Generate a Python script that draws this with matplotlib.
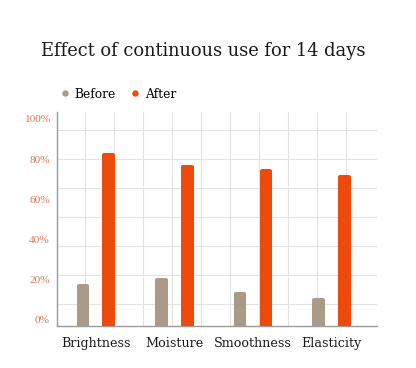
import matplotlib.pyplot as plt
from matplotlib.lines import Line2D
from matplotlib.transforms import ScaledTranslation
import numpy as np

# data (percent)
categories = ['Brightness', 'Moisture', 'Smoothness', 'Elasticity']
before = [21, 24, 17, 14]
after = [86, 80, 78, 75]
series_names = ['Before', 'After']
yticks = [0, 20, 40, 60, 80, 100]
ytick_labels = ['0%', '20%', '40%', '60%', '80%', '100%']

c_before = '#a99b87'
c_after = '#ee4a0c'
c_tick = '#dc7654'

plt.rcParams['font.family'] = ['DejaVu Serif']

fig = plt.figure(figsize=(4.16, 3.68), dpi=100)
ax = fig.add_axes([0.137, 0.115, 0.769, 0.581])

x = np.arange(len(categories))
w = 0.11      # bar body width, round edge adds a little
off = 0.165
lw = 2.9      # edge width in points -> rounded corners
cap = 1.0     # data units the edge adds on top

for xs, vals, col in [(x - off, before, c_before), (x + off, after, c_after)]:
    ax.bar(xs, np.array(vals) - cap, width=w, color=col, edgecolor=col,
           linewidth=lw, joinstyle='round', zorder=3)

ax.set_xlim(-0.494, 3.577)
ax.set_ylim(0, 106.5)

# square background grid, independent from the labelled ticks
ax.set_xticks(-0.137 + 0.369 * np.arange(10), minor=True)
ax.set_yticks(10.8 + 14.45 * np.arange(7), minor=True)
ax.grid(which='minor', color='#e2e2e2', linewidth=0.8, zorder=0)
ax.tick_params(which='minor', length=0)

ax.set_xticks(x)
ax.set_xticklabels(categories, fontsize=9.2, color='#1a1a1a')
ax.set_yticks(yticks)
ax.set_yticklabels(ytick_labels, fontsize=8.2, color=c_tick, family='Liberation Serif')
ax.tick_params(which='major', length=0)
ax.tick_params(axis='x', pad=8)
ax.tick_params(axis='y', pad=5)
for lab in ax.get_yticklabels():
    lab.set_transform(lab.get_transform() + ScaledTranslation(0, 6 / 100, fig.dpi_scale_trans))

for s in ['top', 'right']:
    ax.spines[s].set_visible(False)
ax.spines['left'].set_color('#9a9a9a')
ax.spines['bottom'].set_color('#9a9a9a')
ax.spines['left'].set_linewidth(1.0)
ax.spines['bottom'].set_linewidth(1.0)

fig.text(0.488, 0.862, 'Effect of continuous use for 14 days', ha='center', va='center',
         fontsize=12.9, color='#1a1a1a')

handles = [Line2D([], [], marker='o', linestyle='', markersize=3.6, color=c)
           for c in [c_before, c_after]]
fig.legend(handles, series_names, loc='center left', bbox_to_anchor=(0.147, 0.744),
           ncol=2, frameon=False, fontsize=8.8, handlelength=0.6, handletextpad=0.5,
           columnspacing=1.3, borderaxespad=0, borderpad=0)

fig.savefig('out.png', dpi=100, facecolor='white')
